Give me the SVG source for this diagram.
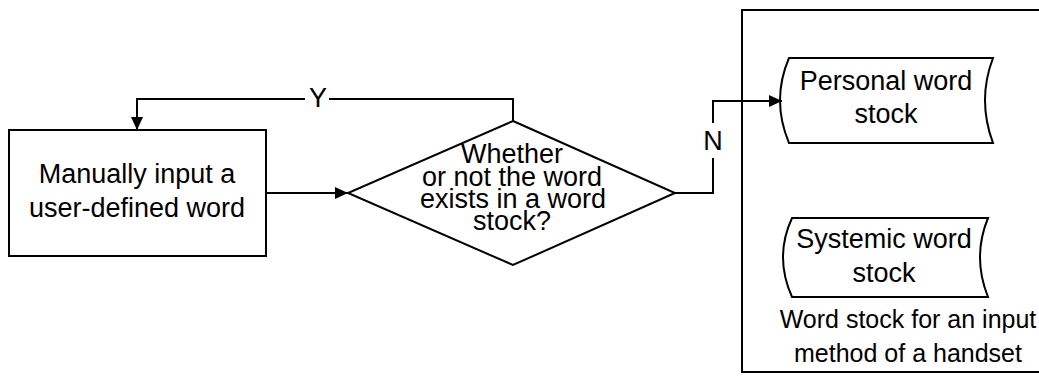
<svg xmlns="http://www.w3.org/2000/svg" width="1039" height="376" viewBox="0 0 1039 376">
<style>
.s{fill:#fff;stroke:#000;stroke-width:2}
.l{fill:none;stroke:#000;stroke-width:2}
text{font-family:"Liberation Sans",Arial,sans-serif;font-size:27px;fill:#000;text-anchor:middle}
.sm{font-size:25px}
</style>
<defs>
<marker id="ah" markerWidth="13" markerHeight="12" refX="13" refY="6" orient="auto" markerUnits="userSpaceOnUse">
<path d="M0,0 L13,6 L0,12 Z" fill="#000"/>
</marker>
</defs>
<rect width="1039" height="376" fill="#fff"/>
<g id="container">
<path class="l" d="M1045,10 H742 V372 H1045"/>
<text class="sm" x="908" y="328">Word stock for an input</text>
<text class="sm" x="908" y="362">method of a handset</text>
</g>
<g id="manual-input">
<rect class="s" x="9" y="130" width="257" height="126"/>
<text x="137" y="183">Manually input a</text>
<text x="137" y="217">user-defined word</text>
</g>
<g id="decision">
<polygon class="s" points="513,121 675,193 513,265 348,193"/>
<text x="512" y="163">Whether</text>
<text x="512" y="186">or not the word</text>
<text x="513" y="208">exists in a word</text>
<text x="512" y="230">stock?</text>
</g>
<g id="personal-stock">
<path class="s" d="M789,58 H993 Q977,100 993,143 H789 Q771,100 789,58 Z"/>
<text x="886" y="90">Personal word</text>
<text x="886" y="123">stock</text>
</g>
<g id="systemic-stock">
<path class="s" d="M792,218 H988 Q972,257 988,297 H792 Q774,257 792,218 Z"/>
<text x="884" y="248">Systemic word</text>
<text x="884" y="282">stock</text>
</g>
<g id="connectors">
<path class="l" d="M266,193 H348" marker-end="url(#ah)"/>
<path class="l" d="M513,121 V99 H329"/>
<path class="l" d="M305,99 H137 V130" marker-end="url(#ah)"/>
<text x="318" y="107">Y</text>
<path class="l" d="M675,193 H713 V158"/>
<path class="l" d="M713,123 V101 H782" marker-end="url(#ah)"/>
<text x="713" y="150">N</text>
</g>
</svg>
